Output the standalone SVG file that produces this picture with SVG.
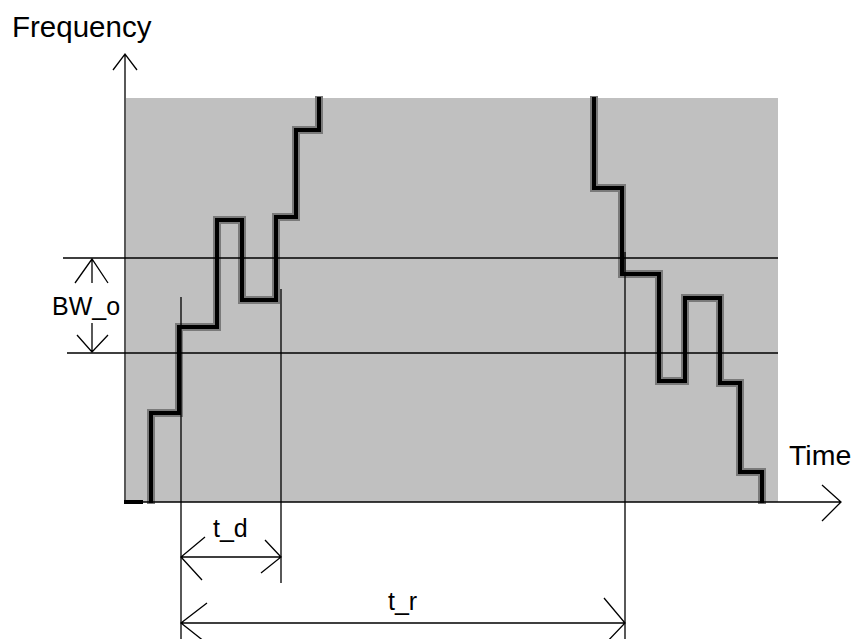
<svg xmlns="http://www.w3.org/2000/svg" width="857" height="639" viewBox="0 0 857 639">
<style>
.t{font-family:"Liberation Sans",Arial,sans-serif;fill:#000}
.ln{stroke:#000;stroke-width:1.3;fill:none}
.halo{stroke:#7a7a7a;stroke-width:8;fill:none;stroke-linejoin:miter;stroke-linecap:square}
.curve{stroke:#000;stroke-width:4;fill:none;stroke-linejoin:miter;stroke-linecap:square}
</style>
<rect width="857" height="639" fill="#fff"/>
<rect id="band" x="126" y="98" width="652" height="404" fill="#c0c0c0"/>
<g id="curves">
<path class="halo" d="M151,500 V413 H179 V327 H217 V220 H242 V300 H276 V217 H296 V130 H319 V100"/>
<path class="halo" d="M594,100 V188 H622 V274 H659 V381 H685 V298 H720 V383 H740 V472 H762 V500"/>
<path class="curve" d="M151,501 V413 H179 V327 H217 V220 H242 V300 H276 V217 H296 V130 H319 V99"/>
<path class="curve" d="M594,99 V188 H622 V274 H659 V381 H685 V298 H720 V383 H740 V472 H762 V501"/>
<path class="curve" d="M126,502 H141" stroke-linecap="butt"/>
</g>
<g id="connectors">
<path class="ln" d="M125,502 V54 M113,70 L125,54 L137,70"/>
<path class="ln" d="M125,502 H841 M822,485 L841,502 L822,521"/>
<path class="ln" d="M63,258 H778 M67,353 H778"/>
<path class="ln" d="M92,259 V283 M75,283 L92,259 L108,283"/>
<path class="ln" d="M92,323 V352 M77,335 L92,352 L108,335"/>
<path class="ln" d="M181,297 V639 M281,289 V583 M625,252 V639"/>
<path class="ln" d="M181,557 H281 M205,537 L181,557 L202,580 M265,540 L281,557 L261,573"/>
<path class="ln" d="M181,623 H625 M207,603 L181,623 L205,642 M604,598 L625,623 L604,645"/>
</g>
<g id="labels">
<text class="t" x="12" y="37" font-size="29.5">Frequency</text>
<text class="t" x="789" y="465" font-size="28.5">Time</text>
<text class="t" x="52" y="315" font-size="25">BW_o</text>
<text class="t" x="213" y="537" font-size="25">t_d</text>
<text class="t" x="388" y="610" font-size="25">t_r</text>
</g>
</svg>
